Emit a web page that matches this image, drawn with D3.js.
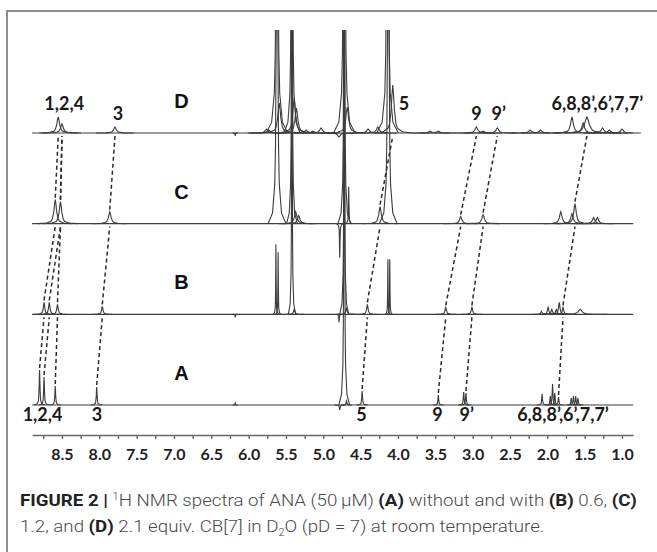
<!DOCTYPE html>
<html>
<head>
<meta charset="utf-8">
<script src="https://cdn.jsdelivr.net/npm/d3@7"></script>
<style>
  html, body { margin: 0; padding: 0; background: #fff; }
  svg { display: block; }
  .axis path, .axis line { stroke: #666; stroke-width: 1.4; }
  .axis text { font-family: Lato, "Open Sans", sans-serif; font-weight: bold; font-size: 16px; fill: #222; }
  .peak-label { font-family: Lato, "Open Sans", sans-serif; font-weight: bold; font-size: 18px; fill: #1a1a1a; }
  .trace-name { font-family: "Liberation Sans", Arial, sans-serif; font-weight: bold; font-size: 20px; fill: #111; }
  .caption { font-family: Roboto, "Liberation Sans", sans-serif; font-size: 17px; font-weight: 300; fill: #4a4a4a; white-space: pre; }
  .caption .b { font-weight: bold; fill: #222; }
</style>
</head>
<body>
<div id="chart"></div>
<script>
  //------------------------1. DATA------------------------------//
  // spectra, top to bottom
  const traces = ["D", "C", "B", "A"];

  // peaks: [ppm, intensity] or [ppm, intensity, half-width (ppm)]
  const peaksA = [
    [8.80, 35], [8.74, 28], [8.59, 19], [8.035, 18], [6.18, 2, 0.003],
    [4.78, -5], [4.72, 400], [4.69, 4], [4.48, 14], [3.46, 10],
    [3.12, 13], [3.09, 12], [2.07, 11], [1.96, 9], [1.93, 21],
    [1.90, 12], [1.85, 8], [1.68, 7], [1.65, 9], [1.62, 9], [1.59, 7]
  ];
  const peaksB = [
    [8.74, 12], [8.67, 12], [8.56, 10], [7.96, 8], [6.18, -3, 0.003],
    [5.635, 70, 0.003], [5.605, 62, 0.003], [5.42, 400, 0.004], [5.39, 5],
    [4.79, -8, 0.004], [4.72, 400, 0.005], [4.69, 6], [4.41, 10],
    [4.135, 55, 0.003], [4.11, 55, 0.003], [3.36, 7], [3.01, 7],
    [2.08, 3], [1.99, 7], [1.94, 5], [1.88, 5], [1.84, 12], [1.79, 7],
    [1.56, 5, 0.03]
  ];
  const peaksC = [
    [8.59, 24], [8.52, 22], [7.86, 12], [5.62, 400, 0.01], [5.42, 400, 0.006],
    [5.37, 12], [5.33, 8], [4.78, -34, 0.004], [4.72, 400, 0.007], [4.66, 37, 0.004],
    [4.24, 17], [4.13, 400, 0.01], [3.16, 7], [2.86, 9], [1.82, 12],
    [1.67, 10], [1.63, 20], [1.38, 6], [1.33, 6]
  ];
  const peaksD = [
    [8.55, 16], [8.50, 9], [7.79, 6], [6.18, -3, 0.003], [5.76, 4], [5.73, 3],
    [5.62, 400, 0.012], [5.59, 30], [5.42, 400, 0.009], [5.39, 35], [5.36, 25],
    [5.23, 3], [5.14, 2], [5.03, 5], [4.79, -4], [4.72, 400, 0.012], [4.68, 26],
    [4.40, 4], [4.27, 6], [4.14, 400, 0.012], [4.07, 48], [3.57, 2], [3.46, 2],
    [2.95, 6], [2.86, 2], [2.67, 5], [2.23, 3], [2.09, 3], [1.67, 16],
    [1.52, 10], [1.47, 16, 0.035], [1.26, 5], [1.17, 3], [1.00, 4]
  ];

  // same proton followed through the titration: ppm in A, B, C, D
  const shifts = [
    [8.80, 8.74, 8.59, 8.55],
    [8.74, 8.67, 8.52, 8.50],
    [8.59, 8.56, 8.52, 8.50],
    [8.035, 7.96, 7.86, 7.79],
    [4.48, 4.41, 4.24, 4.07],
    [3.46, 3.36, 3.16, 2.95],
    [3.09, 3.01, 2.86, 2.67],
    [1.85, 1.79, 1.63, 1.47]
  ];

  const labelsTop = [
    ["1,2,4", 8.47], ["3", 7.75], ["5", 3.92], ["9", 2.95], ["9\u2019", 2.65],
    ["6,8,8\u2019,6\u2019,7,7\u2019", 1.33]
  ];
  const labelsBottom = [
    ["1,2,4", 8.76], ["3", 8.03], ["5", 4.49], ["9", 3.47], ["9\u2019", 3.08],
    ["6,8,8\u2019,6\u2019,7,7\u2019", 1.79]
  ];

  const tickValues = [8.75, 8.5, 8.25, 8.0, 7.75, 7.5, 7.25, 7.0, 6.75, 6.5, 6.25, 6.0,
    5.75, 5.5, 5.25, 5.0, 4.75, 4.5, 4.25, 4.0, 3.75, 3.5, 3.25, 3.0, 2.75, 2.5,
    2.25, 2.0, 1.75, 1.5, 1.25, 1.0];
  const labeledTicks = [8.5, 8.0, 7.5, 7.0, 6.5, 6.0, 5.5, 5.0, 4.5, 4.0, 3.5, 3.0, 2.5, 2.0, 1.5, 1.0];
  const tickLabels = ["8.5", "8.0", "7.5", "7.0", "6.5", "6.0", "5.5", "5.0", "4.5", "4.0",
    "3.5", "3.0", "2.5", "2.0", "1.5", "1.0"];

  //------------------------2. PREPARATION-----------------------//
  const width = 657;
  const height = 552;
  const peaksBy = { A: peaksA, B: peaksB, C: peaksC, D: peaksD };
  const defaultWidth = { A: 0.006, B: 0.011, C: 0.019, D: 0.021 };
  // lorentzian-like outline, offsets in half-widths / fraction of height
  const peakShape = [[-12, 0], [-6, 0.027], [-3, 0.1], [-2, 0.2], [-1, 0.5], [-0.5, 0.8],
    [0, 1], [0.5, 0.8], [1, 0.5], [2, 0.2], [3, 0.1], [6, 0.027], [12, 0]];

  const svg = d3.select("#chart").append("svg")
    .attr("width", width)
    .attr("height", height);

  const x = d3.scaleLinear().domain([8.9, 0.85]).range([32.1, 633.2]);
  const row = d3.scalePoint().domain(traces).range([133, 405]);
  const y = d3.scaleLinear().domain([0, 100]).range([0, -100]);

  svg.append("defs").append("clipPath").attr("id", "plotclip")
    .append("rect").attr("x", 0).attr("y", 30).attr("width", width).attr("height", 400);

  // frame
  svg.append("path")
    .attr("d", "M7," + height + "V11H" + width)
    .attr("fill", "none")
    .attr("stroke", "#8e8e8e")
    .attr("stroke-width", 2);

  //------------------------3. DRAWING---------------------------//
  const plot = svg.append("g").attr("clip-path", "url(#plotclip)");

  traces.forEach(t => {
    const g = plot.append("g")
      .attr("fill", "none")
      .attr("stroke", "#3c3c3c")
      .attr("stroke-width", 1.1);
    const line = d3.line()
      .x(d => x(d[0]))
      .y(d => row(t) + y(d[1]));

    g.append("path").attr("d", line([[8.9, 0], [0.85, 0]]));

    g.selectAll("path.peak")
      .data(peaksBy[t])
      .enter()
      .append("path")
      .attr("class", "peak")
      .attr("d", p => {
        const w = p[2] || defaultWidth[t];
        return line(peakShape.map(s => [p[0] + s[0] * w, p[1] * s[1]]));
      });
  });

  // dashed correlation lines
  const tipOf = (t, ppm) => {
    const p = peaksBy[t].find(q => Math.abs(q[0] - ppm) < 0.03);
    return p ? Math.min(p[1], 60) : 0;
  };
  const order = ["A", "B", "C", "D"];
  const dashLine = d3.line();
  shifts.forEach(s => {
    for (let i = 0; i < 3; i++) {
      const lo = order[i], hi = order[i + 1];
      svg.append("path")
        .attr("d", dashLine([
          [x(s[i]), row(lo) + y(tipOf(lo, s[i])) - 2],
          [x(s[i + 1]), row(hi) + 3]
        ]))
        .attr("fill", "none")
        .attr("stroke", "#2a2a2a")
        .attr("stroke-width", 1.5)
        .attr("stroke-dasharray", "4,3");
    }
  });

  // spectrum names
  svg.selectAll("text.trace-name")
    .data(traces)
    .enter()
    .append("text")
    .attr("class", "trace-name")
    .attr("x", x(6.9))
    .attr("y", d => row(d) - 25)
    .attr("text-anchor", "middle")
    .text(d => d);

  // peak labels
  svg.selectAll("text.top")
    .data(labelsTop)
    .enter()
    .append("text")
    .attr("class", "peak-label")
    .attr("x", d => x(d[1]))
    .attr("y", d => {
      const near = peaksD.filter(p => Math.abs(p[0] - d[1]) <= 0.16).map(p => p[1]);
      const tip = Math.max(6, Math.min(16, d3.max(near) || 0));
      return row("D") - tip - 7;
    })
    .attr("text-anchor", "middle")
    .text(d => d[0]);

  svg.selectAll("text.bottom")
    .data(labelsBottom)
    .enter()
    .append("text")
    .attr("class", "peak-label")
    .attr("x", d => x(d[1]))
    .attr("y", row("A") + 16)
    .attr("text-anchor", "middle")
    .text(d => d[0]);

  // axis
  const xaxis = d3.axisBottom(x)
    .tickValues(tickValues)
    .tickSize(4)
    .tickSizeOuter(0)
    .tickPadding(10)
    .tickFormat(d => {
      const i = labeledTicks.indexOf(d);
      return i >= 0 ? tickLabels[i] : "";
    });

  svg.append("g")
    .attr("class", "axis")
    .attr("transform", "translate(0,435)")
    .call(xaxis);

  //------------------------4. CAPTION---------------------------//
  const cap1 = svg.append("text").attr("class", "caption");
  cap1.append("tspan").attr("class", "b").text("FIGURE 2 | ");
  cap1.append("tspan").attr("font-size", "10px").attr("dy", -6).text("1");
  cap1.append("tspan").attr("dy", 6).text("H NMR spectra of ANA (50\u2009\u03bcM) ");
  cap1.append("tspan").attr("class", "b").text("(A)");
  cap1.append("tspan").text(" without and with ");
  cap1.append("tspan").attr("class", "b").text("(B)");
  cap1.append("tspan").text(" 0.6, ");
  cap1.append("tspan").attr("class", "b").text("(C)");

  const cap2 = svg.append("text").attr("class", "caption");
  cap2.append("tspan").text("1.2, and ");
  cap2.append("tspan").attr("class", "b").text("(D)");
  cap2.append("tspan").text(" 2.1 equiv. CB[7] in D");
  cap2.append("tspan").attr("font-size", "10px").attr("dy", 4).text("2");
  cap2.append("tspan").attr("dy", -4).text("O (pD = 7) at room temperature.");

  // squeeze both lines by the same factor so the first one spans the frame
  const k = 617 / cap1.node().getComputedTextLength();
  cap1.attr("transform", "translate(20,506) scale(" + k + ",1)");
  cap2.attr("transform", "translate(20,532) scale(" + k + ",1)");
</script>
</body>
</html>
